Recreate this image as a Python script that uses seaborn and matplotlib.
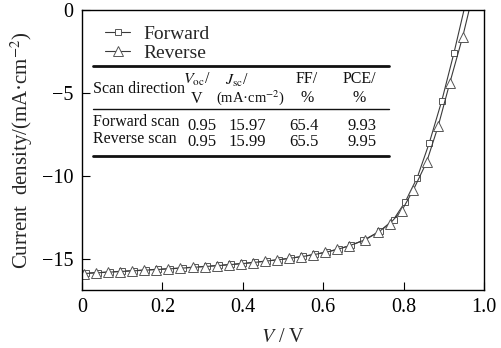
import matplotlib
matplotlib.use("Agg")
import matplotlib.pyplot as plt
import seaborn as sns
import pandas as pd
from matplotlib.lines import Line2D

# ---- data ----
fwd_v = [0.01, 0.04, 0.07, 0.10, 0.13, 0.16, 0.19, 0.22, 0.25, 0.28, 0.31, 0.34,
         0.37, 0.40, 0.43, 0.46, 0.49, 0.52, 0.55, 0.58, 0.61, 0.64, 0.67, 0.70,
         0.741, 0.775, 0.804, 0.834, 0.864, 0.895, 0.925, 0.958]
fwd_j = [-15.83, -15.80, -15.76, -15.72, -15.68, -15.64, -15.60, -15.56, -15.52,
         -15.47, -15.42, -15.37, -15.31, -15.25, -15.18, -15.10, -15.02, -14.93,
         -14.82, -14.70, -14.55, -14.37, -14.15, -13.86, -13.31, -12.61, -11.55,
         -10.08, -7.99, -5.46, -2.61, 0.8]
rev_v = [0.005, 0.035, 0.065, 0.095, 0.125, 0.155, 0.185, 0.215, 0.245, 0.275,
         0.305, 0.335, 0.365, 0.395, 0.425, 0.455, 0.485, 0.515, 0.545, 0.575,
         0.605, 0.635, 0.665, 0.705, 0.737, 0.766, 0.795, 0.824, 0.857, 0.886,
         0.915, 0.947, 0.978]
rev_j = [-15.86, -15.82, -15.78, -15.74, -15.70, -15.66, -15.62, -15.58, -15.54,
         -15.49, -15.44, -15.39, -15.33, -15.27, -15.20, -15.12, -15.04, -14.95,
         -14.85, -14.73, -14.59, -14.41, -14.19, -13.82, -13.37, -12.85, -12.09,
         -10.84, -9.17, -6.99, -4.38, -1.61, 1.5]

series_labels = ["Forward", "Reverse"]
x_ticks = [0, 0.2, 0.4, 0.6, 0.8, 1.0]
x_ticklabels = ["0", "0.2", "0.4", "0.6", "0.8", "1.0"]
y_ticks = [0, -5, -10, -15]
y_ticklabels = ["0", "\u22125", "\u221210", "\u221215"]

table_header1 = ["$V_{\\rm oc}$/", "$J_{\\rm sc}$/", "FF/", "PCE/"]
table_header2 = ["V", "(mA\u00b7cm$^{-2}$)", "%", "%"]
table_rows = ["Forward scan", "Reverse scan"]
table_voc = ["0.95", "0.95"]
table_jsc = ["15.97", "15.99"]
table_ff = ["65.4", "65.5"]
table_pce = ["9.93", "9.95"]

# ---- style ----
sns.set_theme(style="ticks")
plt.rcParams["font.family"] = ["Liberation Serif", "DejaVu Serif"]
plt.rcParams["mathtext.fontset"] = "stix"

W, H = 501, 348
fig = plt.figure(figsize=(W / 100, H / 100), dpi=100)
ax = fig.add_axes([82 / W, 1 - 290 / H, (484 - 82) / W, (290 - 10) / H])

df_f = pd.DataFrame({"V": fwd_v, "J": fwd_j})
df_r = pd.DataFrame({"V": rev_v, "J": rev_j})
lc = "#3a3a3a"
sns.lineplot(data=df_f, x="V", y="J", ax=ax, sort=False, color=lc, lw=0.8,
             marker="s", markersize=5, markerfacecolor="white",
             markeredgecolor="#555555", markeredgewidth=0.7, label=series_labels[0])
sns.lineplot(data=df_r, x="V", y="J", ax=ax, sort=False, color=lc, lw=0.8,
             marker="^", markersize=6.5, markerfacecolor="white",
             markeredgecolor="#555555", markeredgewidth=0.7, label=series_labels[1])

ax.set_xlim(0, 1.0)
ax.set_ylim(-16.85, 0)
ax.set_xticks(x_ticks)
ax.set_xticklabels(x_ticklabels)
ax.set_yticks(y_ticks)
ax.set_yticklabels(y_ticklabels)
ax.tick_params(direction="in", length=6, width=0.8, labelsize=14.5, colors="black",
               top=False, right=False, pad=6)
for s in ax.spines.values():
    s.set_color("black")
    s.set_linewidth(1.0)
    s.set_visible(True)

ax.set_xlabel("$V$ / V", fontsize=14.5, labelpad=8)
ax.set_ylabel("Current  density/(mA\u00b7cm$^{-2}$)", fontsize=15, labelpad=5)

leg = ax.legend(loc="upper left", bbox_to_anchor=((105 - 82) / (484 - 82), 1.0 - 15 / 280),
                frameon=False, fontsize=14, handlelength=1.3, handletextpad=0.7,
                labelspacing=0.1, borderaxespad=0.0, borderpad=0.0)

# ---- table ----
def fx(x):
    return x / W

def fy(y):
    return 1 - y / H

def hline(y, x0, x1, lw):
    fig.add_artist(Line2D([fx(x0), fx(x1)], [fy(y), fy(y)], transform=fig.transFigure,
                          color="#111111", lw=lw))

hline(66, 93, 389, 2.0)
hline(109, 93, 389, 1.0)
hline(155.5, 93, 389, 2.0)

tkw = dict(transform=fig.transFigure, color="#111111")
fig.text(fx(93), fy(89), "Scan direction", ha="left", va="center", fontsize=11.5, **tkw)
# header column 1 (two lines)
fig.text(fx(197), fy(88.5), table_header1[0] + "\n" + table_header2[0], ha="center",
         va="center", multialignment="center", fontsize=11.5, linespacing=1.25, **tkw)
# header column 2 (separate lines, different centres)
fig.text(fx(237), fy(80), table_header1[1], ha="center", va="center", fontsize=11.5, **tkw)
fig.text(fx(250), fy(97.5), table_header2[1], ha="center", va="center", fontsize=10.5, **tkw)
# header columns 3, 4
for t1, t2, x in zip(table_header1[2:], table_header2[2:], [307, 359]):
    fig.text(fx(x), fy(88.5), t1 + "\n" + t2, ha="center", va="center",
             multialignment="center", fontsize=11.5, linespacing=1.25, **tkw)

fig.text(fx(93), fy(130.5), "\n".join(table_rows), ha="left", va="center",
         fontsize=11.5, linespacing=1.05, **tkw)
for vals, x in zip([table_voc, table_jsc, table_ff, table_pce], [202, 247, 304, 362]):
    fig.text(fx(x), fy(134), "\n".join(vals), ha="center", va="center",
             fontsize=12, linespacing=1.0, **tkw)

fig.savefig("out.png", dpi=100)
